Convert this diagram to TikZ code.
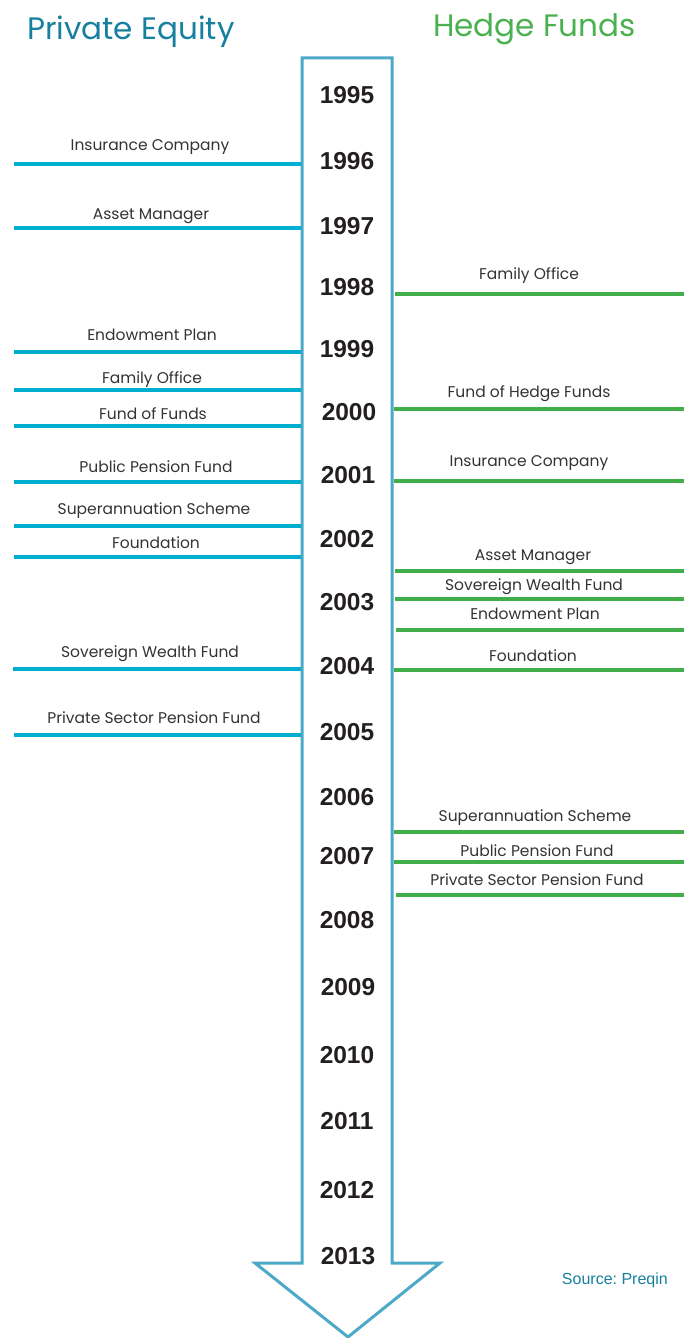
\documentclass[tikz,border=0pt]{standalone}
\usepackage{fontspec}
\setmainfont{Liberation Sans}
\newfontfamily\gothic{Poppins}
\usepackage{tikz}
\definecolor{peteal}{HTML}{16809E}
\definecolor{hfgreen}{HTML}{4BB04F}
\definecolor{pecyan}{HTML}{00AFCF}
\definecolor{hfline}{HTML}{40AE49}
\definecolor{shaft}{HTML}{4CA9C7}
\definecolor{yeargray}{HTML}{231F20}
\frenchspacing

\begin{document}
\begin{tikzpicture}[x=1pt, y=-1pt]
\tikzstyle{title}=[inner sep=0pt, anchor=base west, font=\gothic\fontsize{31}{31}\selectfont]
\tikzstyle{year}=[inner sep=0pt, text=yeargray, font=\bfseries\fontsize{24.5}{24.5}\selectfont]
\tikzstyle{who}=[inner sep=0pt, anchor=base, text=black!80, font=\gothic\fontsize{15.5}{15.5}\selectfont]
\tikzstyle{peline}=[draw=pecyan, line width=4.5pt]
\tikzstyle{hfline}=[draw=hfline, line width=4.5pt]
\useasboundingbox (0,0) rectangle (689,1338);

% timeline arrow
\draw[shaft, line width=3pt, line join=miter]
  (302,58) -- (392,58) -- (392,1263) -- (440,1263) -- (348,1337)
  -- (255,1263) -- (302,1263) -- cycle;

% headings
\node[title, text=peteal]  (pe) at (27,40) {Private Equity};
\node[title, text=hfgreen] (hf) at (433,37) {Hedge Funds};
\node[inner sep=0pt, anchor=base east, text=peteal,
      font=\fontsize{16}{16}\selectfont] (src) at (668,1284) {Source: Preqin};

% years
\node[year] (y1995) at (347,95.5)  {1995};
\node[year] (y1996) at (347,161)   {1996};
\node[year] (y1997) at (347,226)   {1997};
\node[year] (y1998) at (347,287)   {1998};
\node[year] (y1999) at (347,349)   {1999};
\node[year] (y2000) at (349,412.5) {2000};
\node[year] (y2001) at (348,475)   {2001};
\node[year] (y2002) at (347,539)   {2002};
\node[year] (y2003) at (347,602)   {2003};
\node[year] (y2004) at (347,666.5) {2004};
\node[year] (y2005) at (347,732.5) {2005};
\node[year] (y2006) at (347,797)   {2006};
\node[year] (y2007) at (347,856.5) {2007};
\node[year] (y2008) at (347,920)   {2008};
\node[year] (y2009) at (348,987)   {2009};
\node[year] (y2010) at (347,1055)  {2010};
\node[year] (y2011) at (347,1121)  {2011};
\node[year] (y2012) at (347,1190)  {2012};
\node[year] (y2013) at (348,1256.5) {2013};

% private equity side
\node[who] (peIns)   at (150,150) {Insurance Company};
\draw[peline] (14,164) -- (301,164);
\node[who] (peAsset) at (151,219) {Asset Manager};
\draw[peline] (14,228) -- (301,228);
\node[who] (peEndow) at (152,340) {Endowment Plan};
\draw[peline] (14,352) -- (301,352);
\node[who] (peFam)   at (152,383) {Family Office};
\draw[peline] (14,390) -- (301,390);
\node[who] (peFoF)   at (153,419) {Fund of Funds};
\draw[peline] (14,426) -- (301,426);
\node[who] (pePub)   at (156,472) {Public Pension Fund};
\draw[peline] (14,482) -- (301,482);
\node[who] (peSuper) at (154,514) {Superannuation Scheme};
\draw[peline] (14,526) -- (301,526);
\node[who] (peFound) at (156,548) {Foundation};
\draw[peline] (14,557) -- (301,557);
\node[who] (peSov)   at (150,657) {Sovereign Wealth Fund};
\draw[peline] (13,669) -- (301,669);
\node[who] (pePriv)  at (154,723) {Private Sector Pension Fund};
\draw[peline] (14,735) -- (301,735);

% hedge fund side
\node[who] (hfFam)   at (529,279) {Family Office};
\draw[hfline] (395,294) -- (684,294);
\node[who] (hfFoHF)  at (529,397) {Fund of Hedge Funds};
\draw[hfline] (394,409) -- (684,409);
\node[who] (hfIns)   at (529,466) {Insurance Company};
\draw[hfline] (394,481) -- (684,481);
\node[who] (hfAsset) at (533,560) {Asset Manager};
\draw[hfline] (395,571) -- (684,571);
\node[who] (hfSov)   at (534,590) {Sovereign Wealth Fund};
\draw[hfline] (395,599) -- (684,599);
\node[who] (hfEndow) at (535,619) {Endowment Plan};
\draw[hfline] (396,630) -- (684,630);
\node[who] (hfFound) at (533,661) {Foundation};
\draw[hfline] (394,670) -- (684,670);
\node[who] (hfSuper) at (535,821) {Superannuation Scheme};
\draw[hfline] (394,832) -- (684,832);
\node[who] (hfPub)   at (537,856) {Public Pension Fund};
\draw[hfline] (394,862) -- (684,862);
\node[who] (hfPriv)  at (537,885) {Private Sector Pension Fund};
\draw[hfline] (396,895) -- (684,895);
\end{tikzpicture}
\end{document}
